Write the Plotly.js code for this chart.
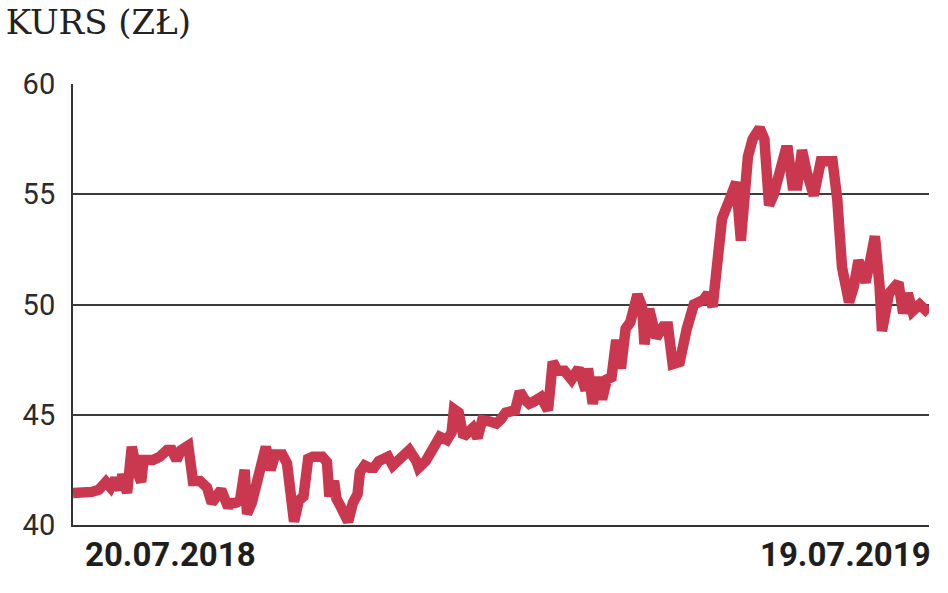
<!DOCTYPE html>
<html>
<head>
<meta charset="utf-8">
<script src="https://cdn.plot.ly/plotly-3.0.1.min.js"></script>
<style>
  html, body { margin: 0; padding: 0; background: #ffffff; }
  #chart { width: 948px; height: 593px; }
</style>
</head>
<body>
<div id="chart"></div>
<script>
// Share price (zł), 20.07.2018 – 19.07.2019
const dates = [
  "2018-07-20","2018-07-25","2018-07-28","2018-07-31","2018-08-03","2018-08-05","2018-08-07","2018-08-09",
  "2018-08-10","2018-08-12","2018-08-14","2018-08-16","2018-08-18","2018-08-19","2018-08-23","2018-08-26",
  "2018-08-29","2018-08-31","2018-09-02","2018-09-04","2018-09-07","2018-09-09","2018-09-12","2018-09-15",
  "2018-09-17","2018-09-19","2018-09-21","2018-09-24","2018-09-25","2018-09-27","2018-09-29","2018-10-01",
  "2018-10-02","2018-10-04","2018-10-05","2018-10-08","2018-10-10","2018-10-12","2018-10-14","2018-10-17",
  "2018-10-19","2018-10-22","2018-10-24","2018-10-26","2018-10-28","2018-10-30","2018-11-03","2018-11-05",
  "2018-11-06","2018-11-08","2018-11-09","2018-11-11","2018-11-14","2018-11-16","2018-11-18","2018-11-19",
  "2018-11-21","2018-11-23","2018-11-25","2018-11-27","2018-12-01","2018-12-03","2018-12-06","2018-12-10",
  "2018-12-13","2018-12-14","2018-12-17","2018-12-20","2018-12-23","2018-12-26","2018-12-28","2018-12-29",
  "2018-12-31","2019-01-02","2019-01-04","2019-01-06","2019-01-08","2019-01-10","2019-01-13","2019-01-16",
  "2019-01-18","2019-01-20","2019-01-24","2019-01-26","2019-01-28","2019-01-30","2019-02-01","2019-02-04",
  "2019-02-07","2019-02-09","2019-02-11","2019-02-14","2019-02-17","2019-02-20","2019-02-23","2019-02-24",
  "2019-02-26","2019-02-28","2019-03-02","2019-03-04","2019-03-06","2019-03-08","2019-03-10","2019-03-12",
  "2019-03-14","2019-03-16","2019-03-17","2019-03-19","2019-03-20","2019-03-22","2019-03-25","2019-03-28",
  "2019-03-30","2019-04-01","2019-04-04","2019-04-07","2019-04-10","2019-04-14","2019-04-16","2019-04-18",
  "2019-04-20","2019-04-22","2019-04-25","2019-04-28","2019-04-30","2019-05-03","2019-05-05","2019-05-08",
  "2019-05-10","2019-05-12","2019-05-14","2019-05-16","2019-05-18","2019-05-19","2019-05-20","2019-05-22",
  "2019-05-24","2019-05-26","2019-05-28","2019-05-31","2019-06-03","2019-06-08","2019-06-10","2019-06-12",
  "2019-06-15","2019-06-17","2019-06-19","2019-06-22","2019-06-24","2019-06-26","2019-06-28","2019-06-29",
  "2019-07-02","2019-07-06","2019-07-08","2019-07-10","2019-07-12","2019-07-15","2019-07-19"
];
const prices = [
  41.45,41.45,41.5,41.6,41.95,41.7,42.1,41.6,
  42.3,41.45,43.55,42.5,41.95,42.95,42.95,43.1,
  43.4,43.4,42.95,43.4,43.6,42.0,42.0,41.7,
  41.0,41.3,41.6,40.8,41.0,41.0,41.1,42.5,
  40.5,41.0,41.5,42.6,43.55,42.5,43.2,43.2,
  42.8,40.15,41.1,41.3,43.0,43.1,43.1,42.85,
  41.3,42.0,41.2,40.8,40.15,41.0,41.4,42.4,
  42.7,42.6,42.6,42.9,43.1,42.7,43.0,43.4,
  42.9,42.6,42.9,43.5,44.0,43.85,44.2,45.25,
  45.1,44.0,44.2,44.4,43.95,44.75,44.7,44.6,
  44.8,45.1,45.2,46.05,45.7,45.5,45.6,45.8,
  45.2,47.4,47.0,47.0,46.6,47.1,46.1,47.1,
  45.5,46.7,45.7,46.6,46.7,48.4,47.1,48.9,
  49.2,50.0,50.45,49.9,48.2,49.8,48.5,49.0,
  49.0,47.3,47.4,48.9,50.0,50.2,50.5,49.9,
  52.5,53.9,54.7,55.55,52.9,56.7,57.5,58.0,
  57.5,54.5,55.0,55.8,56.8,57.0,57.0,55.4,
  55.4,57.0,56.0,54.95,56.5,56.5,54.75,51.7,
  50.1,50.8,52.0,51.0,52.0,53.1,50.8,48.8,
  50.5,51.0,49.6,50.5,49.7,50.0,49.6
];
const yTicks = [40, 45, 50, 55, 60];
const yTickText = ["40", "45", "50", "55", "60"];
const xRange = ["2018-07-20", "2019-07-19"];
const startLabel = "20.07.2018";
const endLabel = "19.07.2019";
const chartTitle = "KURS (ZŁ)";

const labelFont = "Roboto, 'Liberation Sans', sans-serif";

const trace = {
  x: dates,
  y: prices,
  type: "scatter",
  mode: "lines",
  line: { color: "#c9384f", width: 10.5, shape: "linear" },
  hoverinfo: "x+y"
};

const layout = {
  width: 948,
  height: 593,
  margin: { l: 73, r: 19, t: 84, b: 68, pad: 0 },
  paper_bgcolor: "#ffffff",
  plot_bgcolor: "#ffffff",
  showlegend: false,
  title: {
    text: chartTitle,
    x: 0.006, xanchor: "left", xref: "container",
    y: 0.962, yanchor: "middle", yref: "container",
    font: { family: "'DejaVu Serif', 'Liberation Serif', serif", size: 34, color: "#222222" }
  },
  xaxis: {
    type: "date",
    range: xRange,
    showgrid: false,
    zeroline: false,
    showline: true,
    linecolor: "#333333",
    linewidth: 2,
    showticklabels: false,
    ticks: "",
    fixedrange: true
  },
  yaxis: {
    range: [40, 60],
    tickvals: yTicks,
    ticktext: yTickText,
    showgrid: true,
    gridcolor: "#3c3c3c",
    gridwidth: 2,
    zeroline: false,
    showline: true,
    linecolor: "#333333",
    linewidth: 2,
    ticks: "outside",
    ticklen: 10,
    tickcolor: "rgba(0,0,0,0)",
    tickfont: { family: labelFont, size: 29, color: "#2b2b2b" },
    fixedrange: true
  },
  annotations: [
    {
      x: dates[0], xref: "x", xanchor: "left", xshift: 10,
      y: 0, yref: "paper", yanchor: "top", yshift: -8,
      text: "<b>" + startLabel + "</b>", showarrow: false,
      font: { family: labelFont, size: 33, color: "#1e1e1e" }
    },
    {
      x: dates[dates.length - 1], xref: "x", xanchor: "right", xshift: 4,
      y: 0, yref: "paper", yanchor: "top", yshift: -8,
      text: "<b>" + endLabel + "</b>", showarrow: false,
      font: { family: labelFont, size: 33, color: "#1e1e1e" }
    }
  ]
};

Plotly.newPlot("chart", [trace], layout, { displayModeBar: false, staticPlot: true });
</script>
</body>
</html>
